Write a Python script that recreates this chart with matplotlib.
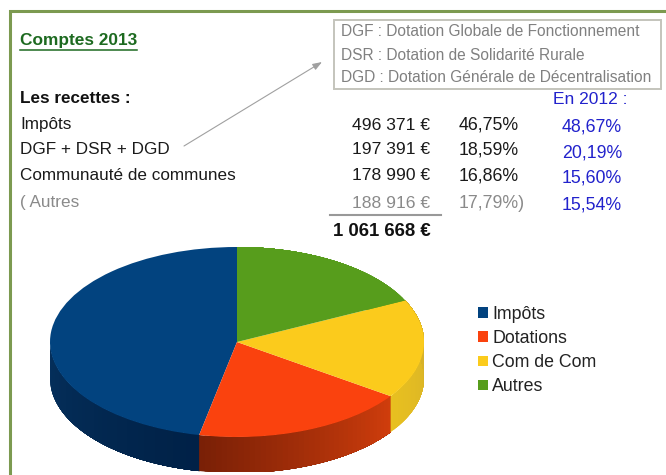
import matplotlib
matplotlib.use('Agg')
import matplotlib.pyplot as plt
import matplotlib.colors as mcolors
import numpy as np

W, H = 666, 475

labels = ['Impôts', 'DGF + DSR + DGD', 'Communauté de communes', '( Autres']
amounts = ['496 371 €', '197 391 €', '178 990 €', '188 916 €']
shares = ['46,75%', '18,59%', '16,86%', '17,79%)']
shares_2012 = ['48,67%', '20,19%', '15,60%', '15,54%']
total = '1 061 668 €'
notes = ['DGF : Dotation Globale de Fonctionnement',
         'DSR : Dotation de Solidarité Rurale',
         'DGD : Dotation Générale de Décentralisation']

pie_labels = ['Impôts', 'Dotations', 'Com de Com', 'Autres']
pie_values = [46.75, 18.59, 16.86, 17.79]
pie_colors = ['#02437f', '#fa420e', '#fbcb1c', '#579d1c']
# side shading, start and end of each visible wall
side_colors = [('#05305c', '#002147'), ('#7a2006', '#cf3d0c'), ('#e8c020', '#d0ac2c'), ('#579d1c', '#579d1c')]

plt.rcParams['font.family'] = ['Liberation Sans', 'DejaVu Sans']

fig = plt.figure(figsize=(W / 100, H / 100), dpi=100)

# pixel overlay for the text and frame
bg = fig.add_axes([0, 0, 1, 1])
bg.set_xlim(0, W)
bg.set_ylim(H, 0)
bg.axis('off')

# frame, only top and left show
bg.plot([10, 10, W], [H, 11, 11], color='#7c9a50', lw=2.2, solid_joinstyle='miter')

bg.text(20, 40, 'Comptes 2013', color='#1d6a20', fontsize=12.4, fontweight='bold', va='center')
bg.plot([20, 137], [49.5, 49.5], color='#1d6a20', lw=1.1)
bg.text(20, 98.5, 'Les recettes :', color='#111111', fontsize=12.3, fontweight='bold', va='center')

rows_y = [125, 150, 176, 203]
blue_y = [127, 153, 178, 205]
for i in range(4):
    c = '#8a8a8a' if i == 3 else '#1a1a1a'
    bg.text(20, rows_y[i], labels[i], color=c, fontsize=12.3, va='center')
    bg.text(430, rows_y[i], amounts[i], color=c, fontsize=12.6, va='center', ha='right')
    bg.text(459, rows_y[i], shares[i], color=c, fontsize=12.8, va='center')
    bg.text(592, blue_y[i], shares_2012[i], color='#2222cc', fontsize=12.8, va='center', ha='center')

bg.text(553, 99, 'En 2012 :', color='#2222cc', fontsize=12.5, va='center')
bg.plot([330, 441], [214.5, 214.5], color='#999999', lw=1.5)
bg.text(431, 231, total, color='#111111', fontsize=13.4, fontweight='bold', va='center', ha='right')

# note box
bg.add_patch(plt.Rectangle((334, 20), 327, 69, fc='white', ec='#c4c4bc', lw=1.4))
for y, note in zip([32, 55, 77], notes):
    bg.text(341, y, note, color='#808080', fontsize=11.2, va='center')

bg.annotate('', xy=(322, 62), xytext=(184, 146),
            arrowprops=dict(arrowstyle='-|>,head_width=0.2,head_length=0.55', color='#a0a0a0', lw=0.8, shrinkA=0, shrinkB=0))

# pie: top face flattened by a non equal aspect
ry = 95.0
depth = 36.0 / ry
top, bottom = 247, 472
ax = fig.add_axes([50 / W, (H - bottom) / H, 374 / W, (bottom - top) / H])
ax.patch.set_alpha(0)

edges = 90 + np.cumsum([0] + pie_values) * 360 / sum(pie_values)
for i in range(len(pie_values)):
    a0 = max(edges[i], 180)
    a1 = min(edges[i + 1], 360 + 180)
    if a1 <= a0:
        continue
    steps = np.linspace(a0, a1, 40)
    c0 = np.array(mcolors.to_rgb(side_colors[i][0]))
    c1 = np.array(mcolors.to_rgb(side_colors[i][1]))
    for j in range(len(steps) - 1):
        # each strip runs on to the end of the wall so no gaps show between strips
        t = np.radians(np.linspace(steps[j], a1, 40))
        x = np.cos(t)
        y = np.sin(t)
        f = j / (len(steps) - 2)
        col = c0 + (c1 - c0) * f
        ax.fill(np.r_[x, x[::-1]], np.r_[y, y[::-1] - depth], color=col, lw=0)

wedges, _ = ax.pie(pie_values, colors=pie_colors, startangle=90, counterclock=True, radius=1.0,
                   normalize=True, wedgeprops=dict(lw=0))
ax.set_aspect('auto')
ax.set_xlim(-1, 1)
ax.set_ylim(1 - (bottom - top) / ry, 1)
ax.axis('off')

leg = fig.legend(wedges, pie_labels, loc='upper left', bbox_to_anchor=(478 / W, (H - 306) / H),
                 frameon=False, fontsize=12.8, handlelength=0.56, handleheight=0.56,
                 handletextpad=0.25, labelspacing=0.4, borderpad=0, borderaxespad=0)
for t in leg.get_texts():
    t.set_color('#222222')

fig.savefig('out.png', dpi=100)
print("Saved: out.png")
